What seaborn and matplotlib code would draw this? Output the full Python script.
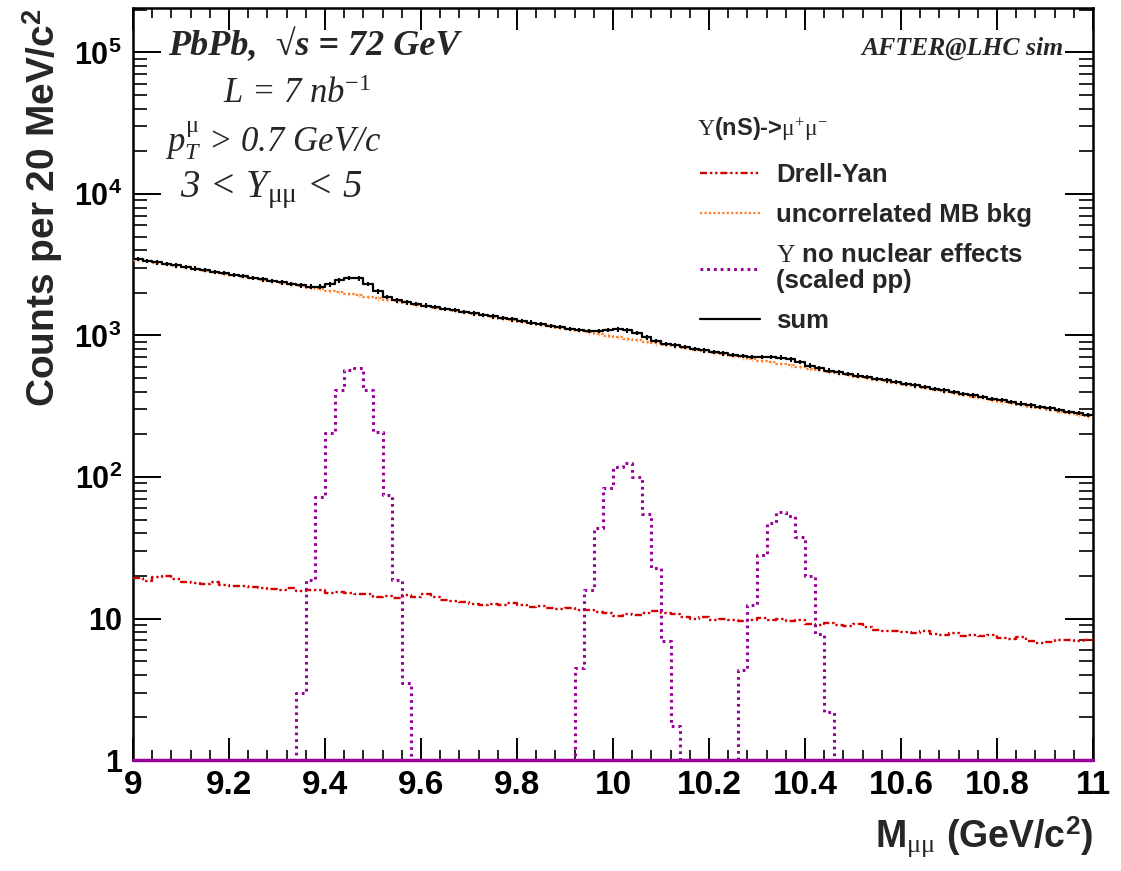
import numpy as np
import pandas as pd
import matplotlib
matplotlib.use("Agg")
import matplotlib.pyplot as plt
import seaborn as sns
from matplotlib.ticker import MultipleLocator, LogLocator, FuncFormatter, NullFormatter
from matplotlib.font_manager import FontProperties

# ---------------- data (20 MeV bins from 9 to 11 GeV/c^2) ----------------
x_min, x_max, bin_width = 9.0, 11.0, 0.02

bkg_counts = [
    3440, 3352, 3268, 3186, 3106, 3028, 2952, 2878, 2806, 2736,
    2668, 2602, 2537, 2474, 2412, 2352, 2294, 2237, 2181, 2127,
    2074, 2022, 1972, 1923, 1875, 1828, 1783, 1739, 1695, 1653,
    1612, 1572, 1533, 1495, 1458, 1421, 1386, 1352, 1318, 1285,
    1253, 1222, 1192, 1162, 1133, 1105, 1078, 1051, 1025, 999,
    974, 950, 926, 903, 880, 858, 837, 816, 795, 775,
    756, 737, 718, 700, 682, 665, 648, 631, 615, 599,
    584, 569, 554, 540, 526, 512, 499, 486, 473, 460,
    448, 436, 424, 413, 402, 391, 380, 370, 360, 350,
    341, 332, 323, 314, 306, 298, 290, 282, 275, 268,
]

drell_yan_counts = [
    19.2, 18.5, 19.5, 20.0, 19.0, 18.0, 17.7, 17.5, 18.2, 17.3,
    16.9, 17.0, 16.8, 16.5, 16.2, 15.9, 16.3, 15.6, 16.0, 15.9,
    15.2, 15.5, 15.2, 14.8, 15.0, 14.3, 14.5, 14.0, 14.7, 14.3,
    14.9, 14.2, 13.6, 13.2, 13.0, 12.7, 12.5, 12.6, 12.4, 12.8,
    12.5, 12.1, 12.3, 11.9, 11.6, 11.8, 11.4, 11.5, 11.2, 11.0,
    10.5, 10.8, 10.6, 10.9, 11.3, 11.0, 10.8, 10.3, 10.0, 10.2,
    9.8, 10.0, 9.7, 9.6, 9.8, 10.1, 9.7, 9.9, 9.6, 9.8,
    9.2, 9.0, 9.3, 9.0, 8.8, 9.1, 8.7, 8.3, 8.1, 8.2,
    8.0, 7.9, 8.1, 7.8, 7.6, 7.9, 7.5, 7.6, 7.5, 7.7,
    7.3, 7.2, 7.4, 6.9, 6.7, 6.8, 7.0, 7.1, 6.9, 7.0,
]

upsilon_counts = [
    0, 0, 0, 0, 0, 0, 0, 0, 0, 0,
    0, 0, 0, 0, 0, 0, 0, 3.0, 18.7, 72.6,
    204, 412, 570, 590, 412, 209, 74.6, 18.7, 3.5, 0,
    0, 0, 0, 0, 0, 0, 0, 0, 0, 0,
    0, 0, 0, 0, 0, 0, 4.5, 15.9, 43.4, 84,
    118, 125, 100, 54.7, 22.6, 6.9, 1.74, 0, 0, 0,
    0, 0, 0, 4.3, 12.5, 28.1, 47, 57, 53, 37.5,
    20, 7.8, 2.2, 0, 0, 0, 0, 0, 0, 0,
    0, 0, 0, 0, 0, 0, 0, 0, 0, 0,
    0, 0, 0, 0, 0, 0, 0, 0, 0, 0,
]

x_tick_labels = ["9", "9.2", "9.4", "9.6", "9.8", "10", "10.2", "10.4", "10.6", "10.8", "11"]
legend_title = r"$\mathrm{\Upsilon}$(nS)->$\mathrm{\mu^{+}\mu^{-}}$"
legend_labels = ["Drell-Yan", "uncorrelated MB bkg",
                 "$\\mathrm{\\Upsilon}$ no nuclear effects\n(scaled pp)", "sum"]
rel_err = 0.035

# ---------------- derived tables ----------------
bkg = np.array(bkg_counts, float)
dy = np.array(drell_yan_counts, float)
ups = np.array(upsilon_counts, float)
total = bkg + dy + ups
n_bins = len(bkg)
edges = x_min + bin_width * np.arange(n_bins + 1)
centers = 0.5 * (edges[:-1] + edges[1:])
y_floor = 1.0


def step_frame(vals):
    return pd.DataFrame({"m": edges, "v": np.append(vals, vals[-1])})


# ---------------- style ----------------
sns.set_theme(style="ticks")
plt.rcParams["font.family"] = ["Liberation Sans", "DejaVu Sans"]
plt.rcParams["font.weight"] = "bold"
plt.rcParams["mathtext.fontset"] = "custom"
plt.rcParams["mathtext.rm"] = "Liberation Serif:weight=normal"
plt.rcParams["mathtext.it"] = "Liberation Serif:style=italic:weight=normal"
plt.rcParams["mathtext.bf"] = "Liberation Serif:weight=bold"
plt.rcParams["mathtext.sf"] = "Liberation Sans:weight=bold"

fig = plt.figure(figsize=(11.21, 8.71), dpi=100)
ax = fig.add_axes([0.1186, 0.1274, 0.8564, 0.8634])

c_dy = "#d40000"
c_bkg = "#ff7f27"
c_ups = "#990099"

# uncorrelated background
ax.errorbar(centers, bkg, yerr=rel_err * bkg, fmt="none", ecolor=c_bkg,
            elinewidth=1.0, alpha=0.55, zorder=2)
sns.lineplot(data=step_frame(bkg), x="m", y="v", ax=ax, drawstyle="steps-post",
             color=c_bkg, linewidth=1.6, linestyle=(0, (1, 1)), sort=False,
             estimator=None, zorder=3, label=legend_labels[1])
h_bkg = ax.lines[-1]

# sum
ax.errorbar(centers, total, yerr=rel_err * total, fmt="none", ecolor="black",
            elinewidth=1.5, zorder=4)
sns.lineplot(data=step_frame(total), x="m", y="v", ax=ax, drawstyle="steps-post",
             color="black", linewidth=1.6, sort=False, estimator=None, zorder=5,
             label=legend_labels[3])
h_sum = ax.lines[-1]

# Drell-Yan
sns.lineplot(data=step_frame(dy), x="m", y="v", ax=ax, drawstyle="steps-post",
             color=c_dy, linewidth=1.7, linestyle=(0, (3, 1.2, 1, 1.2, 1, 1.2)),
             sort=False, estimator=None, zorder=4, label=legend_labels[0])
h_dy = ax.lines[-1]

# Upsilon (zero bins drawn at the axis floor)
sns.lineplot(data=step_frame(np.clip(ups, y_floor, None)), x="m", y="v", ax=ax,
             drawstyle="steps-post", color=c_ups, linewidth=2.2,
             linestyle=(0, (0.9, 1.3)), sort=False, estimator=None, zorder=6,
             clip_on=False, label=legend_labels[2])
h_ups = ax.lines[-1]

# ---------------- axes ----------------
ax.set_yscale("log")
ax.set_xlim(x_min, x_max)
ax.set_ylim(y_floor, 2.06e5)
ax.axhline(ax.get_ylim()[0], color=c_ups, linewidth=2.5, zorder=7, clip_on=False)

ax.xaxis.set_major_locator(MultipleLocator(0.2))
ax.xaxis.set_minor_locator(MultipleLocator(0.04))
ax.set_xticks(np.linspace(x_min, x_max, len(x_tick_labels)))
ax.set_xticklabels(x_tick_labels)
ax.yaxis.set_major_locator(LogLocator(base=10, numticks=10))
ax.yaxis.set_minor_locator(LogLocator(base=10, subs=np.arange(2, 10), numticks=20))
ax.yaxis.set_minor_formatter(NullFormatter())


def yfmt(v, pos):
    e = int(round(np.log10(v)))
    if e == 0:
        return "1"
    if e == 1:
        return "10"
    return r"$\mathsf{10^{%d}}$" % e


ax.yaxis.set_major_formatter(FuncFormatter(yfmt))

ax.tick_params(axis="both", which="both", direction="in", top=True, right=True,
               colors="black")
ax.tick_params(axis="x", which="major", length=16, width=1.4, labelsize=24, pad=7)
ax.tick_params(axis="x", which="minor", length=7, width=1.2)
ax.tick_params(axis="y", which="major", length=20, width=1.4, labelsize=22, pad=8)
ax.tick_params(axis="y", which="minor", length=10, width=1.2)
for lab in ax.get_xticklabels() + ax.get_yticklabels():
    lab.set_fontweight("bold")
for s in ax.spines.values():
    s.set_linewidth(1.8)
    s.set_color("black")

ax.set_xlabel(r"M$_{\mathrm{\mu\mu}}$ (GeV/c$^{\mathsf{2}}$)", fontsize=27,
              fontweight="bold", loc="right", labelpad=10)
ax.set_ylabel(r"Counts per 20 MeV/c$^{\mathsf{2}}$", fontsize=28, fontweight="bold",
              loc="top", labelpad=6)

# ---------------- legend ----------------
sans = ["Liberation Sans", "DejaVu Sans"]
leg_font = FontProperties(family=sans, weight="bold", size=18.5)
leg = ax.legend(handles=[h_dy, h_bkg, h_ups, h_sum], labels=legend_labels,
                loc="upper left", bbox_to_anchor=(0.5906, 0.794),
                frameon=False, prop=leg_font, borderpad=0,
                handlelength=2.35, handletextpad=0.62,
                labelspacing=0.63, borderaxespad=0)
for t in leg.get_texts():
    t.set_linespacing(1.08)
fig.text(0.6218, 0.853, legend_title, family=sans, weight="bold", fontsize=17,
         va="center", ha="left")

# ---------------- annotations ----------------
serif = ["Liberation Serif", "DejaVu Serif"]
fig.text(0.150, 0.947, "PbPb,  \u221As = 72 GeV", family=serif, style="italic",
         weight="bold", fontsize=26, va="center", ha="left")
fig.text(0.199, 0.892, r"L = 7 nb$^{\mathit{-1}}$", family=serif, style="italic",
         weight="normal", fontsize=25, va="center", ha="left")
fig.text(0.147, 0.839, r"$\mathit{p}_{\mathit{T}}^{\mathrm{\mu}}$ > 0.7 GeV/c", family=serif,
         style="italic", weight="normal", fontsize=25, va="center", ha="left")
fig.text(0.161, 0.781, r"3 < Y$_{\mathrm{\mu\mu}}$ < 5", family=serif, style="italic",
         weight="normal", fontsize=28, va="center", ha="left")
fig.text(0.949, 0.945, "AFTER@LHC sim", family=serif, style="italic", weight="bold",
         fontsize=18.5, va="center", ha="right")

fig.savefig("out.png", dpi=100, facecolor="white")
